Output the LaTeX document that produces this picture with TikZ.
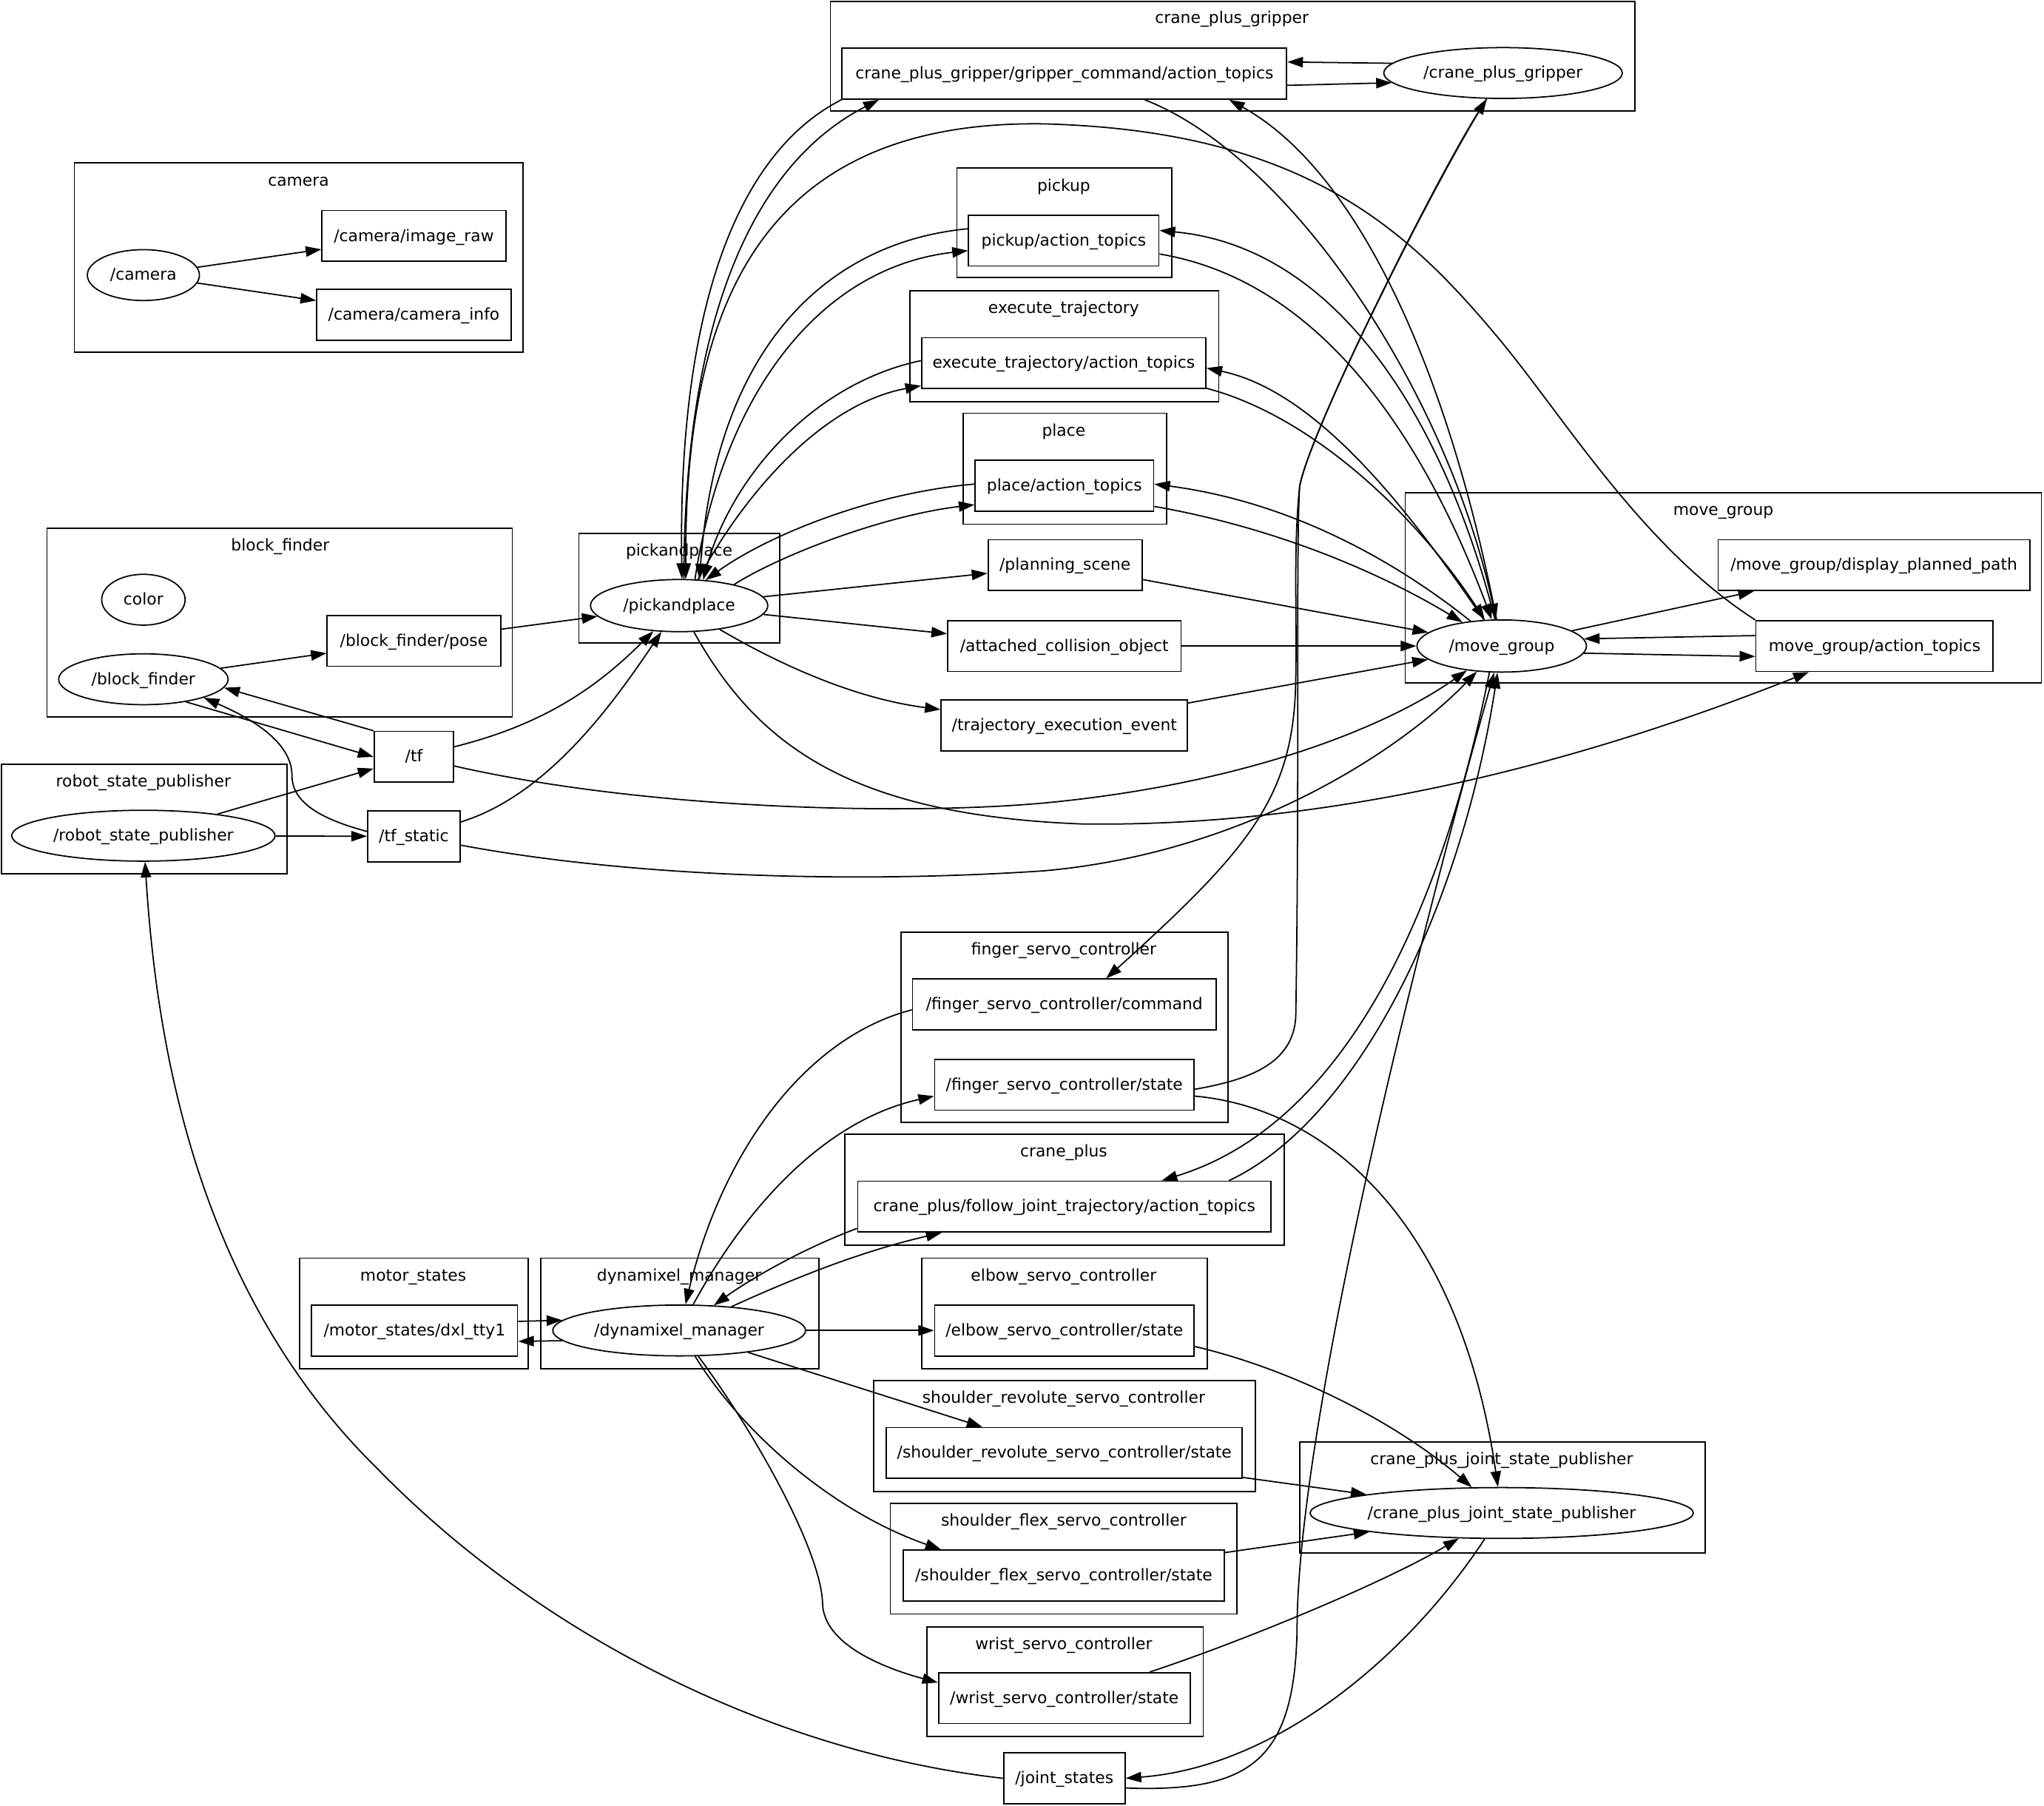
\documentclass[tikz,border=0pt]{standalone}
\usepackage{fontspec}
\setmainfont{DejaVu Sans}
\usetikzlibrary{arrows.meta,shapes.geometric}
\newcommand{\lbl}[1]{\makebox[0pt]{#1}}
\tikzset{
  rosnode/.style={draw,ellipse,inner sep=0pt,minimum height=39pt,text height=10pt,text depth=2pt},
  rostopic/.style={draw,rectangle,inner sep=0pt,minimum height=39pt,text height=10pt,text depth=2pt},
  grp/.style={draw},
  grptitle/.style={anchor=base,inner sep=0pt},
  flow/.style={->},
}
\begin{document}
\begin{tikzpicture}[x=1pt,y=-1pt,line width=1pt,>={Triangle[length=12pt,width=8pt]},font=\fontsize{12.4}{15}\selectfont]
\useasboundingbox (0,0) rectangle (1568,1385);
% 分组框
\draw[grp] (637,1) rectangle (1254,85);
\node[grptitle] (t-gripper) at (945,18) {\lbl{crane\_plus\_gripper}};
\draw[grp] (57,125) rectangle (401,270);
\node[grptitle] (t-camera) at (229,142.5) {\lbl{camera}};
\draw[grp] (734,129) rectangle (899,213);
\node[grptitle] (t-pickup) at (816,146.5) {\lbl{pickup}};
\draw[grp] (698,223) rectangle (935,308);
\node[grptitle] (t-exec) at (816,240.5) {\lbl{execute\_trajectory}};
\draw[grp] (739,317) rectangle (895,402);
\node[grptitle] (t-place) at (816,334.5) {\lbl{place}};
\draw[grp] (1078,378) rectangle (1566,524);
\node[grptitle] (t-movegroup) at (1322,395.5) {\lbl{move\_group}};
\draw[grp] (36,405) rectangle (393,550);
\node[grptitle] (t-blockfinder) at (215,422.5) {\lbl{block\_finder}};
\draw[grp] (444,409) rectangle (598,493);
\node[grptitle] (t-pnp) at (521,426.5) {\lbl{pickandplace}};
\draw[grp] (1,586) rectangle (220,670);
\node[grptitle] (t-rsp) at (110,603.5) {\lbl{robot\_state\_publisher}};
\draw[grp] (691,715) rectangle (942,861);
\node[grptitle] (t-finger) at (816,732.5) {\lbl{finger\_servo\_controller}};
\draw[grp] (648,870) rectangle (985,955);
\node[grptitle] (t-craneplus) at (816,887.5) {\lbl{crane\_plus}};
\draw[grp] (230,965) rectangle (405,1050);
\node[grptitle] (t-motor) at (317,982.5) {\lbl{motor\_states}};
\draw[grp] (415,965) rectangle (628,1050);
\node[grptitle] (t-dxl) at (521,982.5) {\lbl{dynamixel\_manager}};
\draw[grp] (707,965) rectangle (926,1050);
\node[grptitle] (t-elbow) at (816,982.5) {\lbl{elbow\_servo\_controller}};
\draw[grp] (670,1059) rectangle (963,1144);
\node[grptitle] (t-shrev) at (816,1076.5) {\lbl{shoulder\_revolute\_servo\_controller}};
\draw[grp] (997,1106) rectangle (1308,1191);
\node[grptitle] (t-cpj) at (1152,1123.5) {\lbl{crane\_plus\_joint\_state\_publisher}};
\draw[grp] (683,1153) rectangle (949,1238);
\node[grptitle] (t-shflex) at (816,1170.5) {\lbl{shoulder\_flex\_servo\_controller}};
\draw[grp] (711,1248) rectangle (923,1332);
\node[grptitle] (t-wrist) at (816,1265.5) {\lbl{wrist\_servo\_controller}};
% 节点与话题
\node[rosnode,minimum width=86pt] (cam) at (110,211) {\lbl{/camera}};
\node[rostopic,minimum width=141pt] (img) at (317.5,181) {\lbl{/camera/image\_raw}};
\node[rostopic,minimum width=149pt] (info) at (317.5,241.5) {\lbl{/camera/camera\_info}};
\node[rostopic,minimum width=341pt] (gca) at (816.5,56.5) {\lbl{crane\_plus\_gripper/gripper\_command/action\_topics}};
\node[rosnode,minimum width=183pt] (cpg) at (1153,56) {\lbl{/crane\_plus\_gripper}};
\node[rostopic,minimum width=146pt] (pick) at (816,184.5) {\lbl{pickup/action\_topics}};
\node[rostopic,minimum width=218pt] (exec) at (816,278.5) {\lbl{execute\_trajectory/action\_topics}};
\node[rostopic,minimum width=137pt] (place) at (816.5,372.5) {\lbl{place/action\_topics}};
\node[rostopic,minimum width=118pt] (ps) at (817,433.5) {\lbl{/planning\_scene}};
\node[rostopic,minimum width=179pt] (aco) at (816.5,495.5) {\lbl{/attached\_collision\_object}};
\node[rostopic,minimum width=189pt] (tee) at (816.5,556.5) {\lbl{/trajectory\_execution\_event}};
\node[rostopic,minimum width=239pt] (dpp) at (1437.5,433.5) {\lbl{/move\_group/display\_planned\_path}};
\node[rostopic,minimum width=182pt] (mga) at (1438,495.5) {\lbl{move\_group/action\_topics}};
\node[rosnode,minimum width=130pt,minimum height=40pt] (mg) at (1152,495.5) {\lbl{/move\_group}};
\node[rosnode,minimum width=64pt] (color) at (110,460) {\lbl{color}};
\node[rosnode,minimum width=130pt] (bf) at (110,521) {\lbl{/block\_finder}};
\node[rostopic,minimum width=133pt] (bfp) at (317.5,491.5) {\lbl{/block\_finder/pose}};
\node[rosnode,minimum width=136pt,minimum height=40pt] (pnp) at (521,464.5) {\lbl{/pickandplace}};
\node[rostopic,minimum width=61pt] (tf) at (317.5,580.5) {\lbl{/tf}};
\node[rostopic,minimum width=71pt] (tfs) at (317.5,641.5) {\lbl{/tf\_static}};
\node[rosnode,minimum width=202pt] (rsp) at (110,641) {\lbl{/robot\_state\_publisher}};
\node[rostopic,minimum width=233pt] (fcmd) at (816.5,770.5) {\lbl{/finger\_servo\_controller/command}};
\node[rostopic,minimum width=199pt] (fst) at (816.5,832) {\lbl{/finger\_servo\_controller/state}};
\node[rostopic,minimum width=317pt] (cpf) at (816.5,925.5) {\lbl{crane\_plus/follow\_joint\_trajectory/action\_topics}};
\node[rostopic,minimum width=158pt] (msd) at (318,1020.5) {\lbl{/motor\_states/dxl\_tty1}};
\node[rosnode,minimum width=194pt] (dm) at (521,1020.5) {\lbl{/dynamixel\_manager}};
\node[rostopic,minimum width=199pt] (elb) at (816.5,1020.5) {\lbl{/elbow\_servo\_controller/state}};
\node[rostopic,minimum width=273pt] (shr) at (816.5,1114.5) {\lbl{/shoulder\_revolute\_servo\_controller/state}};
\node[rostopic,minimum width=246pt] (shf) at (816,1208.5) {\lbl{/shoulder\_flex\_servo\_controller/state}};
\node[rostopic,minimum width=193pt] (wri) at (816.5,1302.5) {\lbl{/wrist\_servo\_controller/state}};
\node[rosnode,minimum width=294pt] (cpj) at (1152,1160.5) {\lbl{/crane\_plus\_joint\_state\_publisher}};
\node[rostopic,minimum width=93pt] (js) at (816.5,1364) {\lbl{/joint\_states}};
% camera, block_finder, tf
\draw[flow] (cam) -- (img);
\draw[flow] (cam) -- (info);
\draw[flow] (bf) -- (bfp);
\draw[flow] (bfp) -- (pnp);
\draw[flow] (bf.-28) -- (tf.west);
\draw[flow] (tf.north west) -- (bf.-6);
\draw[flow] (tfs.174) .. controls (245,628) and (224,615) .. (224,595) .. controls (224,570) and (195,552) .. (bf.-17);
\draw[flow] (rsp) -- (tf);
\draw[flow] (rsp) -- (tfs);
\draw[flow] (tf) .. controls (420,555) and (460,525) .. (pnp);
\draw[flow] (tfs) .. controls (420,610) and (470,540) .. (pnp);
\draw[flow] (tf) .. controls (500,622) and (700,625) .. (800,616) .. controls (950,602) and (1060,560) .. (mg);
\draw[flow] (tfs) .. controls (480,672) and (650,678) .. (800,668) .. controls (950,655) and (1070,580) .. (mg);
% pickandplace 发布的话题
\draw[flow] (pnp) -- (ps);
\draw[flow] (pnp) -- (aco);
\draw[flow] (pnp) .. controls (590,505) and (650,535) .. (tee);
\draw[flow] (pnp) .. controls (580,570) and (650,625) .. (830,632) .. controls (1050,635) and (1250,570) .. (mga);
\draw[flow] (ps) -- (mg);
\draw[flow] (aco) -- (mg);
\draw[flow] (tee) -- (mg);
% action 话题与 pickandplace 双向连接
\draw[flow] (gca.south west) .. controls (560,120) and (520,250) .. (pnp.84);
\draw[flow] (pnp.80) .. controls (525,260) and (570,130) .. (gca.188);
\draw[flow] (mga.north west) .. controls (1260,420) and (1200,320) .. (1150,260) .. controls (1080,176) and (1000,100) .. (800,95) .. controls (580,92) and (525,240) .. (pnp.76);
\draw[flow] (pick.173) .. controls (640,185) and (550,260) .. (pnp.52);
\draw[flow] (pnp.59) .. controls (555,300) and (630,205) .. (pick.186);
\draw[flow] (exec.179) .. controls (620,295) and (560,370) .. (pnp.47);
\draw[flow] (pnp.54) .. controls (570,380) and (630,310) .. (exec.189);
\draw[flow] (place.179) .. controls (670,378) and (590,410) .. (pnp.44);
\draw[flow] (pnp.21) .. controls (600,425) and (680,395) .. (place.192);
% action 话题与 move_group 双向连接
\draw[flow] (mg) .. controls (1110,330) and (1030,190) .. (pick.6);
\draw[flow] (pick.-8) .. controls (1010,215) and (1090,330) .. (mg);
\draw[flow] (mg) .. controls (1080,390) and (1010,300) .. (exec.-2);
\draw[flow] (exec.-10) .. controls (1010,320) and (1090,400) .. (mg);
\draw[flow] (mg) .. controls (1070,430) and (990,385) .. (place.1);
\draw[flow] (place.-13) .. controls (980,405) and (1060,440) .. (mg);
\draw[flow] (mg) .. controls (1110,280) and (1040,130) .. (gca.-9);
\draw[flow] (gca.-18) .. controls (990,120) and (1110,300) .. (mg);
\draw[flow] (mg) -- (dpp);
\draw[flow] (mga.175) -- (mg.5);
\draw[flow] (mg.-5) -- (mga.185);
% gripper
\draw[flow] (cpg.175) -- (gca.3);
\draw[flow] (gca.-3) -- (cpg.185);
\draw[flow] (fst.-2) .. controls (960,828) and (992,815) .. (994,780) .. controls (997,600) and (994,420) .. (997,373) .. controls (1005,330) and (1100,140) .. (cpg);
\draw[flow] (cpg) .. controls (1100,140) and (1005,330) .. (997,373) .. controls (992,420) and (995,470) .. (994,520) .. controls (993,610) and (960,650) .. (fcmd.32);
\draw[flow] (mg.-115) .. controls (1110,680) and (1040,860) .. (cpf.15);
\draw[flow] (cpf.9) .. controls (1040,860) and (1120,700) .. (mg);
% joint_states
\draw[flow] (js.-9) .. controls (960,1375) and (993,1350) .. (995,1250) .. controls (995,1100) and (1080,750) .. (mg);
\draw[flow] (cpj) .. controls (1080,1270) and (980,1355) .. (js.east);
\draw[flow] (js.west) .. controls (600,1345) and (420,1260) .. (290,1127) .. controls (150,990) and (120,800) .. (rsp);
% dynamixel_manager
\draw[flow] (msd.5) -- (dm.175);
\draw[flow] (dm.185) -- (msd.-6);
\draw[flow] (fcmd.182) .. controls (620,795) and (555,880) .. (dm);
\draw[flow] (dm) .. controls (570,930) and (630,860) .. (fst.185);
\draw[flow] (cpf.186) .. controls (610,960) and (570,985) .. (dm);
\draw[flow] (dm) .. controls (610,980) and (660,960) .. (cpf.192);
\draw[flow] (dm) -- (elb);
\draw[flow] (dm) -- (shr);
\draw[flow] (dm) .. controls (570,1100) and (640,1160) .. (shf.168);
\draw[flow] (dm) .. controls (580,1100) and (630,1190) .. (631,1230) .. controls (632,1262) and (680,1280) .. (wri.173);
% 关节状态汇总
\draw[flow] (elb.-7) .. controls (990,1050) and (1070,1090) .. (cpj);
\draw[flow] (fst.-5) .. controls (1020,850) and (1120,940) .. (cpj);
\draw[flow] (shr) -- (cpj);
\draw[flow] (shf) -- (cpj);
\draw[flow] (wri.17) .. controls (950,1260) and (1060,1215) .. (cpj);
\end{tikzpicture}
\end{document}
